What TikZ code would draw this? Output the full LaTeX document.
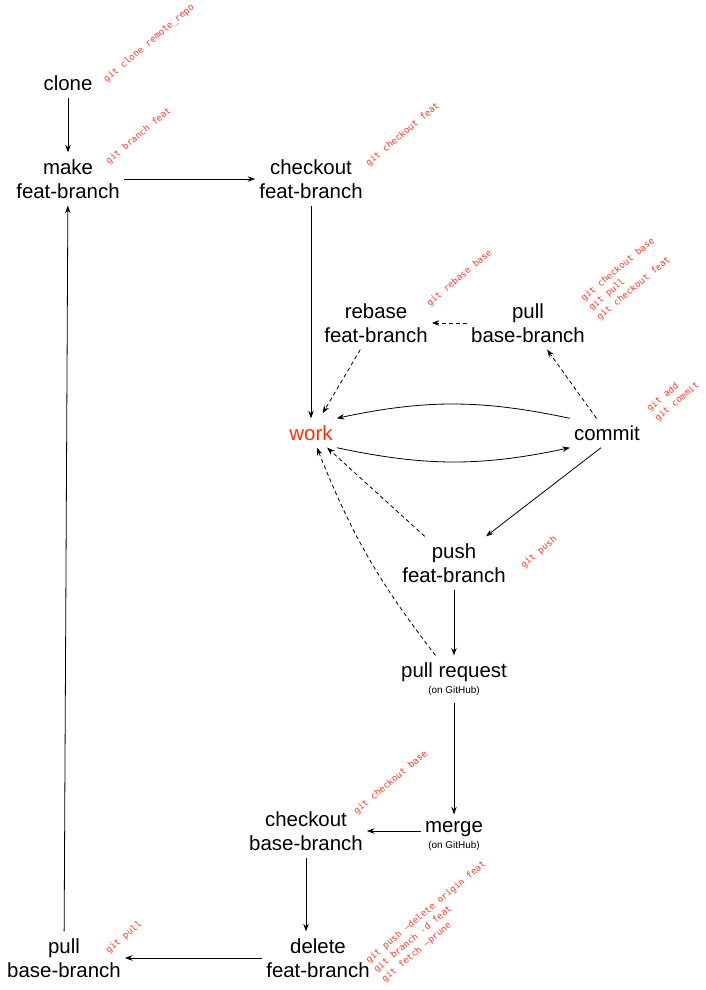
\documentclass[tikz,border=0pt]{standalone}
\usepackage{fontspec}
\setmainfont{Liberation Sans}
\newfontfamily\cmdfont{DejaVu Sans Mono}
\usetikzlibrary{arrows.meta}
\definecolor{cmdred}{RGB}{240,62,48}
\definecolor{workred}{RGB}{255,48,8}
\newcommand{\gh}{{\fontsize{10}{12}\selectfont (on GitHub)}}
\begin{document}
\begin{tikzpicture}[x=1bp,y=-1bp,
  stage/.style={align=center,font=\fontsize{20.5}{24}\selectfont,inner xsep=4bp,inner ysep=7bp},
  cmd/.style={rotate=40,anchor=south west,inner sep=0pt,align=left,text=cmdred,
    font=\cmdfont\fontsize{9.1}{12.3}\selectfont},
  flow/.style={-{Stealth[length=7.5bp,width=5.5bp]},line width=0.8bp},
  alt/.style={flow,dash pattern=on 4bp off 3bp}]
\useasboundingbox (0,0) rectangle (706,990);

% workflow stages
\node[stage] (clone)  at (68,83)   {clone};
\node[stage] (make)   at (68,179)  {make\\feat-branch};
\node[stage] (cof)    at (311,179) {checkout\\feat-branch};
\node[stage] (rebase) at (376,323) {rebase\\feat-branch};
\node[stage] (pullt)  at (528,323) {pull\\base-branch};
\node[stage,text=workred] (work) at (311,433) {work};
\node[stage] (commit) at (607,433) {commit};
\node[stage] (push)   at (454,563) {push\\feat-branch};
\node[stage] (pr)     at (454,679) {pull request\\[-8bp]\gh};
\node[stage] (merge)  at (454,836) {merge\\[-8bp]\gh};
\node[stage] (cob)    at (306,831) {checkout\\base-branch};
\node[stage] (del)    at (318,958) {delete\\feat-branch};
\node[stage] (pullb)  at (64,958)  {pull\\base-branch};

% git commands
\node[cmd] (c1) at (108,84)  {git clone remote\_repo};
\node[cmd] (c2) at (110,166) {git branch feat};
\node[cmd] (c3) at (370,168) {git checkout feat};
\node[cmd] (c4) at (431,308) {git rebase base};
\node[cmd] (c5) at (601,322) {git checkout base\\git pull\\git checkout feat};
\node[cmd] (c6) at (659,423) {git add\\git commit};
\node[cmd] (c7) at (525,570) {git push};
\node[cmd] (c8) at (358,816) {git checkout base};
\node[cmd] (c9) at (386,984) {git push —delete origin feat\\git branch -d feat\\git fetch —prune};
\node[cmd] (c10) at (110,955) {git pull};

% transitions
\draw[flow] (clone) -- (make);
\draw[flow] (make) -- (cof);
\draw[flow] (cof) -- (work);
\draw[alt] (pullt) -- (rebase);
\draw[alt,shorten >=6bp] (rebase) -- (work);
\draw[alt] (commit) -- (pullt);
\draw[flow] (commit.north west) to[bend right=12] (work.north east);
\draw[flow] (work.south east) to[bend right=12] (commit.south west);
\draw[flow] ([xshift=-6bp]commit.south) -- ([xshift=32bp]push.north);
\draw[alt] (push) -- (work);
\draw[alt] (pr) to[bend left=8] (work);
\draw[flow] (push) -- (pr);
\draw[flow] (pr) -- (merge);
\draw[flow] ([yshift=5bp]merge.west) -- ([yshift=5bp]merge.west -| cob.east);
\draw[flow] (cob.south) -- (cob.south |- del.north);
\draw[flow] (del) -- (pullb);
\draw[flow] (pullb) -- (make);
\end{tikzpicture}
\end{document}
